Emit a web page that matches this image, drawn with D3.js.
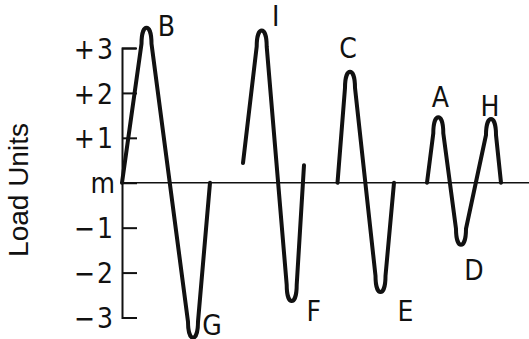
<!DOCTYPE html>
<html lang="en">
<head>
  <meta charset="utf-8">
  <title>Load history</title>
  <script src="https://d3js.org/d3.v7.min.js"></script>
  <style>
    body { margin: 0; background: #fff; }
    .axis text { font: 28px "Liberation Sans Narrow", "DejaVu Sans Condensed", sans-serif; fill: #111; }
    .axis path, .axis line { stroke: #111; stroke-width: 2px; }
    .pt { font: 28px "Liberation Sans Narrow", "DejaVu Sans Condensed", sans-serif; fill: #111; }
    .ylabel { font: 28px "Liberation Sans", sans-serif; fill: #111; }
  </style>
</head>
<body>
<svg width="529" height="339"></svg>
<script>
// reversal points of the load history, one array per drawn segment
var times = [
  [0, 2.45, 7.1, 8.8],
  [12.1, 13.97, 16.97, 18.2],
  [21.55, 22.8, 25.85, 27.2],
  [30.5, 31.63, 33.9, 36.9, 37.9]
];
var loads = [
  [0, 3.45, -3.45, 0],
  [0.44, 3.39, -2.63, 0.39],
  [0, 2.47, -2.43, 0],
  [0, 1.46, -1.38, 1.42, 0]
];
var peakNames = [
  ["", "B", "G", ""],
  ["", "I", "F", ""],
  ["", "C", "E", ""],
  ["", "A", "D", "H", ""]
];
var tickValues = [-3, -2, -1, 0, 1, 2, 3];
var tickLabels = ["\u22123", "\u22122", "\u22121", "m", "+1", "+2", "+3"];

// where each letter sits relative to its reversal point (px)
var labelOffset = {
  B: [20, -2], I: [14, -15], C: [-2, -24], A: [2, -20], H: [-1, -13],
  G: [19, -13], F: [22, 10], E: [25, 19], D: [13, 25]
};

var svg = d3.select("svg");
var x = d3.scaleLinear().domain([0, 40.7]).range([122, 529]);
var y = d3.scaleLinear().domain([-3, 3]).range([317.5, 48]);

// mean line
svg.append("line")
  .attr("x1", x(0)).attr("x2", x(40.7))
  .attr("y1", y(0)).attr("y2", y(0))
  .attr("stroke", "#111").attr("stroke-width", 1.6);

var yAxis = d3.axisLeft(y)
  .tickValues(tickValues)
  .tickFormat(function(d) { return tickLabels[tickValues.indexOf(d)]; })
  .tickSizeInner(-15).tickSizeOuter(-14).tickPadding(7);

var ax = svg.append("g").attr("class", "axis")
  .attr("transform", "translate(" + x(0) + ",0)")
  .call(yAxis);
ax.selectAll("text").attr("dy", "0.36em")
  .attr("letter-spacing", function(d) { return d === 0 ? 0 : 2; });

svg.append("text")
  .attr("class", "ylabel")
  .attr("text-anchor", "middle")
  .attr("transform", "translate(28,190) rotate(-90)")
  .text("Load Units");

// straight flanks joined by U-shaped caps at each reversal
function wavePath(pts) {
  var w = 5, h = 16;
  var p = d3.path();
  p.moveTo(pts[0][0], pts[0][1]);
  for (var i = 1; i < pts.length - 1; i++) {
    var v = pts[i];
    var dir = v[1] > pts[i - 1][1] ? 1 : -1; // 1 = trough, -1 = peak
    p.lineTo(v[0] - w, v[1] - dir * h);
    p.bezierCurveTo(v[0] - w, v[1] + dir * h / 3, v[0] + w, v[1] + dir * h / 3, v[0] + w, v[1] - dir * h);
  }
  var e = pts[pts.length - 1];
  p.lineTo(e[0], e[1]);
  return p.toString();
}

times.forEach(function(ts, s) {
  var pts = ts.map(function(t, i) { return [x(t), y(loads[s][i])]; });
  svg.append("path")
    .attr("d", wavePath(pts))
    .attr("fill", "none")
    .attr("stroke", "#111")
    .attr("stroke-width", 4)
    .attr("stroke-linecap", "round")
    .attr("stroke-linejoin", "round");

  pts.forEach(function(p, i) {
    var name = peakNames[s][i];
    if (!name) return;
    svg.append("text")
      .attr("class", "pt")
      .attr("text-anchor", "middle")
      .attr("dy", "0.36em")
      .attr("x", p[0] + labelOffset[name][0])
      .attr("y", p[1] + labelOffset[name][1])
      .text(name);
  });
});
</script>
</body>
</html>
